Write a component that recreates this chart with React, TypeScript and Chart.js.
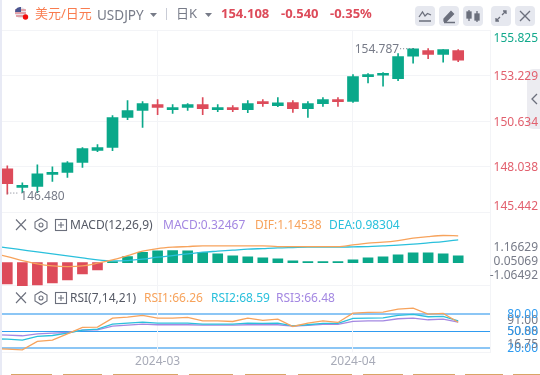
import React, { useEffect, useRef } from "react";
import { Chart, registerables } from "chart.js";

Chart.register(...registerables);

const FONT = '"Noto Sans","Noto Sans CJK SC",sans-serif';
const GREEN = "#0aa88a";
const RED = "#dd4b5a";
const GRID = "#f3f4f7";
const ORANGE = "#f7a35c";
const CYAN = "#2ac0dc";
const PURPLE = "#a488e2";
const BLUE = "#2f9bf0";

const opens = [147.923,146.857,146.914,147.598,147.712,148.283,148.967,149.139,150.85,151.249,151.575,151.289,151.421,151.575,151.289,151.318,151.289,151.66,151.517,151.689,151.346,151.632,151.774,151.763,153.172,153.246,153.058,154.33,154.655,154.427,154.648];
const closes = [147.068,146.914,147.638,147.712,148.266,149.064,149.121,150.833,151.232,151.632,151.421,151.403,151.575,151.346,151.403,151.289,151.632,151.632,151.672,151.346,151.632,151.86,151.746,153.172,153.286,153.36,154.313,154.752,154.427,154.712,154.108];
const highs = [148.095,147.125,148.152,148.037,148.323,149.121,149.293,150.947,151.803,151.746,151.86,151.575,151.632,151.974,151.575,151.517,151.803,151.86,151.974,151.803,151.746,151.974,151.974,153.286,153.343,153.4,154.484,154.787,154.769,154.712,154.712];
const lows = [146.48,146.554,146.554,147.199,147.427,147.998,148.893,148.95,150.719,150.279,151.004,151.078,151.249,151.004,151.175,151.175,151.118,151.478,151.46,151.135,150.85,151.478,151.478,151.706,152.813,152.619,152.944,153.931,154.199,153.988,154.028];

const macdHist = [-1.035,-1.132,-1.083,-0.986,-0.841,-0.55,-0.356,0.03,0.291,0.501,0.566,0.582,0.566,0.501,0.42,0.323,0.275,0.226,0.178,0.081,0.03,0.03,0.02,0.129,0.226,0.275,0.372,0.469,0.469,0.42,0.325];
// The indicator lines start one session before the first visible candle (index -1).
const macdDif = [0.45,0.291,0.097,-0.065,-0.162,-0.194,-0.162,-0.032,0.129,0.34,0.55,0.679,0.744,0.776,0.809,0.809,0.809,0.809,0.809,0.776,0.776,0.776,0.776,0.776,0.857,0.938,0.986,1.067,1.18,1.261,1.31,1.294];
const macdDea = [0.81,0.711,0.614,0.517,0.42,0.323,0.226,0.129,0.081,0.097,0.162,0.259,0.34,0.42,0.501,0.55,0.598,0.647,0.679,0.711,0.728,0.744,0.744,0.744,0.76,0.776,0.809,0.841,0.889,0.954,1.019,1.1];

const rsi1 = [19.7,18.8,17.7,32.4,34.7,45.9,57.1,57.7,73.5,75.3,78.2,73.5,73.5,74.7,68.8,68.8,67.6,73.5,69.4,71.8,58.8,64.7,68.8,65.9,82.3,83.5,84.1,89.4,91.2,80.6,81.8,66.26];
const rsi2 = [37,36.5,34.7,41.2,42.9,47.1,52.4,54.1,62.9,64.7,66.5,64.7,64.7,64.7,62.9,62.9,62.9,64.7,64.1,64.7,60,61.8,64.1,64.1,72.9,73.5,74.1,78.2,80,75.9,76.5,68.59];
const rsi3 = [44.7,43.5,42.4,45.9,47.1,48.2,52.4,53,59.4,61.2,62.9,61.8,61.8,61.8,61.2,61.2,61.2,61.8,61.8,61.8,59.4,60.6,62.4,62.4,67.6,68.8,68.8,72.4,73.5,70.6,71.8,66.48];

const dateTickIndex = [10, 23];
const dateTickLabels = ["2024-03", "2024-04"];

const priceTicks = [155.825, 153.229, 150.634, 148.038, 145.442];
const priceLabels: (string | string[])[] = [["", "155.825"], "153.229", "150.634", "148.038", ["145.442", ""]];
const macdTicks = [1.16629, 0.05069, -1.06492, -1.13];
const macdLabels: (string | string[])[] = [["", "1.16629"], "0.05069", ["-1.06492", ""], ""];
const rsiTicks = [91, 80, 50.3, 50, 20, 16.75, 13.8];
const rsiLabels: (string | string[])[] = [["", "", "91.00"], "80.00", "50.88", "50.00", "20.00", ["16.75", ""], ""];
const rsiLabelColors = ["#777b88", BLUE, "#777b88", BLUE, BLUE, "#777b88", "#777b88"];
const rsiGridColors = ["transparent", "#8cc6f5", "transparent", "#2f9bf0", "#8cc6f5", "transparent", GRID];
const rsiGridWidths = [1, 2, 1, 1, 2, 1, 1];

const peakLabels = [
  { index: 27, value: 154.787, text: "154.787", side: "left" },
  { index: 0, value: 146.48, text: "146.480", side: "right" },
];

const fromLead = (arr: number[]) => arr.map((y, i) => ({ x: i - 1, y }));

const peakPlugin = {
  id: "peaks",
  afterDatasetsDraw(chart: any) {
    const { ctx, scales } = chart;
    ctx.save();
    ctx.font = `12px ${FONT}`;
    ctx.fillStyle = "#777b88";
    ctx.textBaseline = "middle";
    for (const p of peakLabels) {
      const px = scales.x.getPixelForValue(p.index);
      const py = scales.yPrice.getPixelForValue(p.value);
      ctx.strokeStyle = "#777b88";
      ctx.setLineDash([1, 2]);
      ctx.beginPath();
      if (p.side === "left") {
        ctx.moveTo(px, py + 0.5);
        ctx.lineTo(px - 14, py + 0.5);
        ctx.stroke();
        ctx.textAlign = "right";
        ctx.fillText(p.text, px - 14, py + 1);
      } else {
        ctx.moveTo(px, py - 1);
        ctx.lineTo(px + 12, py - 1);
        ctx.stroke();
        ctx.textAlign = "left";
        ctx.fillText(p.text, px + 13, py + 3);
      }
    }
    ctx.restore();
  },
};

const yBase = (extra: any) => ({
  position: "right",
  stack: "panes",
  offset: false,
  afterFit: (s: any) => { s.width = 48; },
  border: { display: true, color: GRID },
  ...extra,
});

const setTicks = (values: number[]) => (s: any) => { s.ticks = values.map((value) => ({ value })); };

const Text = ({ x, y, color, size = 12, bold = false, children }: any) => (
  <span style={{ position: "absolute", left: x, top: y - 10, height: 20, lineHeight: "20px", color, fontSize: size, fontWeight: bold ? 700 : 400, fontFamily: FONT, whiteSpace: "nowrap" }}>{children}</span>
);

const Caret = ({ x, y }: any) => (
  <svg style={{ position: "absolute", left: x, top: y }} width="7" height="4"><path d="M0 0H7L3.5 4Z" fill="#777b88" /></svg>
);

const Btn = ({ x, children }: any) => (
  <div style={{ position: "absolute", left: x, top: 6, width: 20, height: 20, background: "#e6e8ef", borderRadius: 4 }}>
    <svg width="20" height="20" fill="none" stroke="#6b6f7c" strokeWidth="1.3">{children}</svg>
  </div>
);

const PaneTools = ({ y }: any) => (
  <svg style={{ position: "absolute", left: 13, top: y - 8 }} width="58" height="16" fill="none" stroke="#6b6f7c" strokeWidth="1.1">
    <path d="M3 2.5L13 13M13 2.5L3 13" />
    <path d="M28 1.5L34 5V11L28 14.5L22 11V5Z" />
    <circle cx="28" cy="8" r="2" />
    <rect x="42.5" y="2.5" width="11" height="11" />
    <path d="M48 5V11M45 8H51" />
  </svg>
);

const bottomTabs = [[11, 52], [63, 102], [113, 178], [189, 233], [245, 286], [298, 352], [363, 403], [413, 455], [465, 503], [513, 540]];

export default function App() {
  const ref = useRef<HTMLCanvasElement>(null);

  useEffect(() => {
    document.body.style.margin = "0";
    const upColors = opens.map((o, i) => (closes[i] >= o ? GREEN : RED));
    const histColors = macdHist.map((v) => (v >= 0 ? GREEN : RED));
    const lineDs = (data: number[], color: string, yAxisID: string, smooth = false) => ({
      type: "line",
      data: fromLead(data),
      borderColor: color,
      borderWidth: 1.3,
      pointRadius: 0,
      tension: 0,
      cubicInterpolationMode: smooth ? "monotone" : "default",
      yAxisID,
    });
    const chart = new Chart(ref.current as HTMLCanvasElement, {
      data: {
        datasets: [
          lineDs(macdDif, ORANGE, "yMacd", true),
          lineDs(macdDea, CYAN, "yMacd", true),
          lineDs(rsi1, ORANGE, "yRsi"),
          lineDs(rsi2, CYAN, "yRsi"),
          lineDs(rsi3, PURPLE, "yRsi"),
          {
            type: "bar",
            data: macdHist.map((y, x) => ({ x, y })),
            backgroundColor: histColors,
            barThickness: 10,
            minBarLength: 1,
            grouped: false,
            yAxisID: "yMacd",
          },
          {
            type: "bar",
            data: opens.map((o, x) => ({ x, y: [o, closes[x]] })),
            backgroundColor: upColors,
            barThickness: 11,
            minBarLength: 2,
            grouped: false,
            yAxisID: "yPrice",
          },
          {
            type: "bar",
            data: lows.map((l, x) => ({ x, y: [l, highs[x]] })),
            backgroundColor: upColors,
            barThickness: 1,
            grouped: false,
            yAxisID: "yPrice",
          },
        ],
      } as any,
      options: {
        responsive: false,
        animation: false,
        devicePixelRatio: 1,
        layout: { padding: { top: 30, right: 2, left: 0, bottom: 0 } },
        plugins: { legend: { display: false }, tooltip: { enabled: false } },
        scales: {
          yPrice: yBase({
            stackWeight: 182,
            min: 145.442,
            max: 155.825,
            afterBuildTicks: setTicks(priceTicks),
            grid: { color: GRID, drawTicks: false },
            ticks: {
              autoSkip: false,
              padding: 0,
              crossAlign: "far",
              labelOffset: 1,
              color: (c: any) => (c.index === 0 ? "#12a98c" : "#e2606e"),
              font: { family: FONT, size: 12 },
              callback: (_v: any, i: number) => priceLabels[i],
            },
          }),
          yMacd: yBase({
            stackWeight: 73.5,
            min: -1.13,
            max: 2.435,
            afterBuildTicks: setTicks(macdTicks),
            grid: {
              drawTicks: false,
              color: (c: any) => (c.index === 3 ? GRID : "transparent"),
            },
            ticks: {
              autoSkip: false,
              padding: 0,
              crossAlign: "far",
              color: "#777b88",
              font: { family: FONT, size: 12, lineHeight: 1.5 },
              callback: (_v: any, i: number) => macdLabels[i],
            },
          }),
          yRsi: yBase({
            stackWeight: 66,
            min: 13.8,
            max: 130.3,
            afterBuildTicks: setTicks(rsiTicks),
            grid: {
              drawTicks: false,
              color: (c: any) => rsiGridColors[c.index] ?? GRID,
              lineWidth: (c: any) => rsiGridWidths[c.index] ?? 1,
            },
            ticks: {
              autoSkip: false,
              padding: 0,
              crossAlign: "far",
              color: (c: any) => rsiLabelColors[c.index] ?? "#777b88",
              font: { family: FONT, size: 12, lineHeight: 1 },
              callback: (_v: any, i: number) => rsiLabels[i],
            },
          }),
          x: {
            type: "linear",
            offset: false,
            min: -0.486,
            max: 32.116,
            afterBuildTicks: setTicks(dateTickIndex),
            afterFit: (s: any) => { s.height = 23; },
            grid: { color: GRID, drawTicks: false, offset: false },
            border: { display: false },
            ticks: {
              autoSkip: false,
              maxRotation: 0,
              padding: 2,
              color: "#a8abb8",
              font: { family: FONT, size: 12 },
              callback: (v: any) => dateTickLabels[dateTickIndex.indexOf(Number(v))] ?? "",
            },
          },
        },
      } as any,
      plugins: [peakPlugin],
    } as any);
    return () => chart.destroy();
  }, []);

  return (
    <div style={{ position: "relative", width: 540, height: 375, overflow: "hidden", background: "#fff" }}>
      <div style={{ position: "absolute", left: 527, top: 69, width: 13, height: 60, background: "#ececf1", borderRadius: "6px 0 0 6px" }}>
        <svg width="13" height="60" fill="none" stroke="#6b6f7c" strokeWidth="1.3"><path d="M10 25L5 30L10 35" /></svg>
      </div>
      <canvas ref={ref} width={540} height={375} style={{ position: "absolute", left: 0, top: 0, display: "block" }} />
      <div style={{ position: "absolute", left: 0, top: 0, width: 2, height: 375, background: "#e8eaf5" }} />

      <svg style={{ position: "absolute", left: 14, top: 6 }} width="16" height="15">
        <circle cx="6.5" cy="6.5" r="5.5" fill="#e8e4ea" />
        <path d="M1 4H12M1 7H12M2 10H11" stroke="#d9606a" strokeWidth="1" />
        <path d="M1.5 3.5A5.5 5.5 0 0 1 7 1V6H1Z" fill="#4a5590" />
        <circle cx="11.5" cy="11" r="2.7" fill="#f20d0d" />
      </svg>
      <Text x={35} y={13} color="#f97c4f" size={13}>美元/日元</Text>
      <Text x={97} y={15} color="#777b88" size={13.5}>USDJPY</Text>
      <Caret x={150} y={13} />
      <div style={{ position: "absolute", left: 166, top: 8, width: 1, height: 12, background: "#c9ccd6" }} />
      <Text x={176} y={13} color="#777b88" size={13}>日K</Text>
      <Caret x={205} y={13} />
      <Text x={221} y={13} color={RED} size={13} bold>154.108</Text>
      <Text x={281} y={13} color={RED} size={13} bold>-0.540</Text>
      <Text x={330} y={13} color={RED} size={13} bold>-0.35%</Text>

      <Btn x={415}><path d="M4 11L7.5 6L10 10L12.5 7.5L16 9M4 15H16" /></Btn>
      <Btn x={439}><path d="M5 13L12 5.5L14.5 8L7.5 15H5ZM5 16.5H16" fill="#6b6f7c" /></Btn>
      <Btn x={463}><path d="M6 4V15M14 5V16" /><rect x="4" y="6" width="4" height="6" fill="#6b6f7c" /><rect x="12" y="8" width="4" height="6" fill="#6b6f7c" /></Btn>
      <Btn x={491}><path d="M5 15L9 11M5 12V15H8M15 5L11 9M12 5H15V8" /></Btn>
      <Btn x={515}><path d="M5 5L15 15M15 5L5 15" /></Btn>

      <PaneTools y={225} />
      <Text x={70} y={225} color="#555965">MACD(12,26,9)</Text>
      <Text x={163} y={225} color={PURPLE}>MACD:0.32467</Text>
      <Text x={255} y={225} color={ORANGE}>DIF:1.14538</Text>
      <Text x={329} y={225} color={CYAN}>DEA:0.98304</Text>

      <PaneTools y={298} />
      <Text x={70} y={298} color="#555965">RSI(7,14,21)</Text>
      <Text x={144} y={298} color={ORANGE}>RSI1:66.26</Text>
      <Text x={211} y={298} color={CYAN}>RSI2:68.59</Text>
      <Text x={276} y={298} color={PURPLE}>RSI3:66.48</Text>

      {bottomTabs.map(([a, b]) => (
        <div key={a} style={{ position: "absolute", left: a, top: 374, width: b - a, height: 1, background: "#d9a566" }} />
      ))}
    </div>
  );
}
